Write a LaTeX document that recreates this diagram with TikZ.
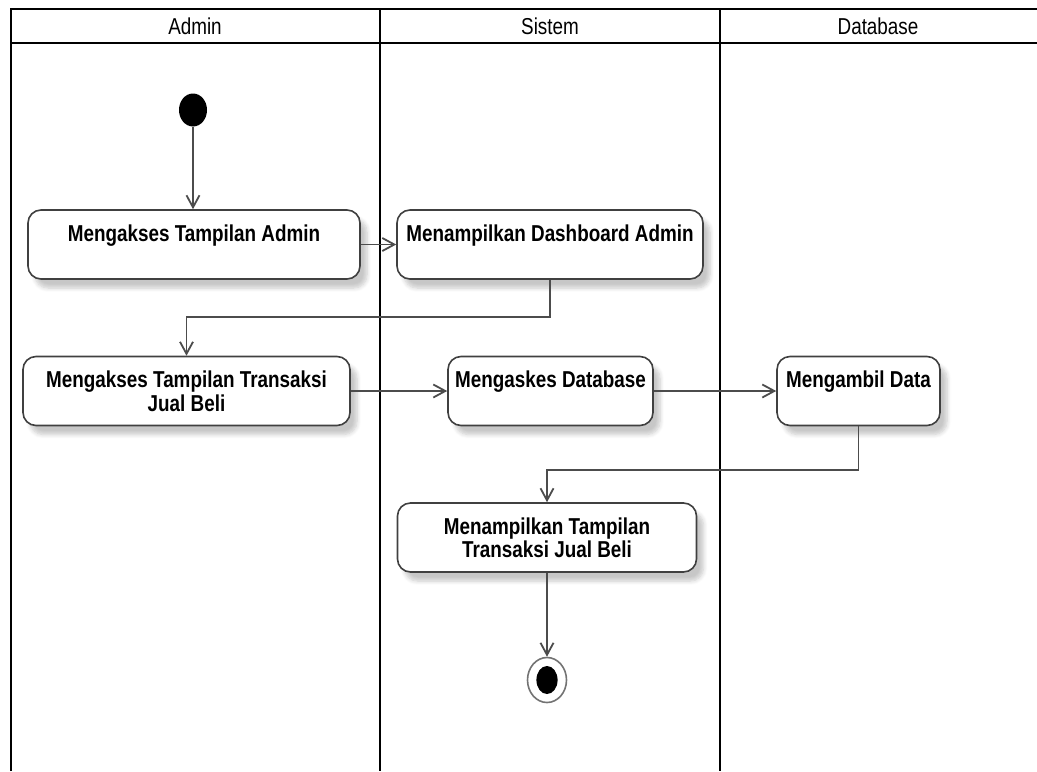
\documentclass[tikz,border=0pt]{standalone}
\usepackage{fontspec}
\setmainfont[FakeStretch=0.82]{Liberation Sans}
\usetikzlibrary{arrows.meta, shapes.geometric, shadows.blur}

\tikzset{
    lane/.style = {line width=1.3pt, black},
    lanehead/.style = {font=\fontsize{11.5}{12}\selectfont},
    act/.style = {draw=black!75, line width=0.8pt, fill=white, rounded corners=6.5pt,
        minimum height=34.5pt, inner sep=0pt,
        blur shadow={shadow xshift=3.5pt, shadow yshift=-4.5pt, shadow opacity=22, shadow blur steps=6}},
    acttext/.style = {anchor=north, yshift=-7.5pt, inner sep=0pt, align=center,
        font=\bfseries\fontsize{11.5}{10.5}\selectfont},
    flow/.style = {->, draw=black!70, line width=0.9pt}
}

\begin{document}
\begin{tikzpicture}[x=0.5pt, y=-0.5pt, >={Straight Barb[length=6pt, width=6.5pt]}]
    \useasboundingbox (0,0) rectangle (1037,771);

    % swimlanes
    \draw[lane] (11,771) -- (11,9) -- (1037,9);
    \draw[lane] (11,43) -- (1037,43);
    \draw[lane] (380,9) -- (380,771);
    \draw[lane] (720,9) -- (720,771);
    \node[lanehead] (hAdmin) at (195,26) {Admin};
    \node[lanehead] (hSistem) at (550,26) {Sistem};
    \node[lanehead] (hDatabase) at (878,26) {Database};

    % activities
    \node[ellipse, fill=black, minimum width=14pt, minimum height=16.5pt, inner sep=0pt] (start) at (193,110) {};
    \node[act, minimum width=166pt, label={[acttext]north:Mengakses Tampilan Admin}] (A1) at (194,244.5) {};
    \node[act, minimum width=153pt, label={[acttext]north:Menampilkan Dashboard Admin}] (S1) at (550,244.5) {};
    \node[act, minimum width=163.5pt, label={[acttext]north:Mengakses Tampilan Transaksi\\Jual Beli}] (A2) at (186.5,391) {};
    \node[act, minimum width=102.5pt, label={[acttext]north:Mengaskes Database}] (S2) at (550.5,391) {};
    \node[act, minimum width=81.5pt, label={[acttext]north:Mengambil Data}] (D1) at (858.5,391) {};
    \node[act, minimum width=149.5pt, label={[acttext]north:Menampilkan Tampilan\\Transaksi Jual Beli}] (S3) at (547,537.5) {};
    \node[ellipse, draw=black!55, line width=0.8pt, fill=white, minimum width=19.5pt, minimum height=22.5pt, inner sep=0pt,
        path picture={\fill[black] (path picture bounding box.center) ellipse (5.3pt and 7pt);}] (end) at (547,680) {};

    % flows
    \draw[flow] (start) -- (start |- A1.north);
    \draw[flow] (A1) -- (S1);
    \draw[flow] (S1.south) -- ++(0,37) -| (A2.north);
    \draw[flow] (A2) -- (S2);
    \draw[flow] (S2) -- (D1);
    \draw[flow] (D1.south) -- ++(0,44) -| (S3.north);
    \draw[flow] (S3) -- (end);
\end{tikzpicture}
\end{document}
